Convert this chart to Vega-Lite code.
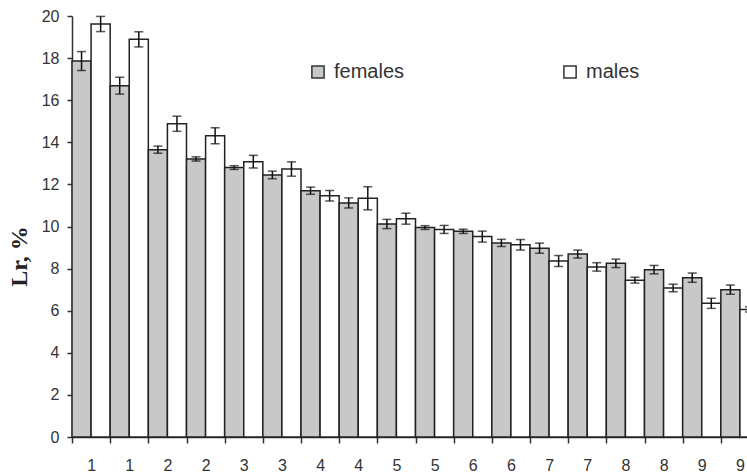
{
  "$schema": "https://vega.github.io/schema/vega-lite/v6.json",
  "width": 687,
  "height": 421,
  "autosize": "none",
  "padding": {"left": 72, "top": 16, "right": 0, "bottom": 39},
  "background": "white",
  "config": {
    "view": {"stroke": null},
    "font": "Liberation Sans",
    "axis": {"grid": false, "domainColor": "#333333", "domainWidth": 1.5, "tickColor": "#333333", "tickWidth": 1.5, "labelColor": "#333333", "labelFont": "Liberation Sans", "labelFontSize": 16}
  },
  "data": {"values": [
    {"g": 0, "sex": "females", "v": 17.86, "lo": 17.41, "hi": 18.31},
    {"g": 0, "sex": "males", "v": 19.62, "lo": 19.26, "hi": 19.98},
    {"g": 1, "sex": "females", "v": 16.69, "lo": 16.29, "hi": 17.09},
    {"g": 1, "sex": "males", "v": 18.89, "lo": 18.53, "hi": 19.25},
    {"g": 2, "sex": "females", "v": 13.65, "lo": 13.48, "hi": 13.82},
    {"g": 2, "sex": "males", "v": 14.88, "lo": 14.52, "hi": 15.24},
    {"g": 3, "sex": "females", "v": 13.21, "lo": 13.11, "hi": 13.31},
    {"g": 3, "sex": "males", "v": 14.31, "lo": 13.93, "hi": 14.69},
    {"g": 4, "sex": "females", "v": 12.8, "lo": 12.71, "hi": 12.89},
    {"g": 4, "sex": "males", "v": 13.08, "lo": 12.78, "hi": 13.38},
    {"g": 5, "sex": "females", "v": 12.45, "lo": 12.27, "hi": 12.63},
    {"g": 5, "sex": "males", "v": 12.73, "lo": 12.39, "hi": 13.07},
    {"g": 6, "sex": "females", "v": 11.7, "lo": 11.53, "hi": 11.87},
    {"g": 6, "sex": "males", "v": 11.46, "lo": 11.21, "hi": 11.71},
    {"g": 7, "sex": "females", "v": 11.12, "lo": 10.88, "hi": 11.36},
    {"g": 7, "sex": "males", "v": 11.34, "lo": 10.79, "hi": 11.89},
    {"g": 8, "sex": "females", "v": 10.12, "lo": 9.9, "hi": 10.34},
    {"g": 8, "sex": "males", "v": 10.37, "lo": 10.11, "hi": 10.63},
    {"g": 9, "sex": "females", "v": 9.95, "lo": 9.86, "hi": 10.04},
    {"g": 9, "sex": "males", "v": 9.86, "lo": 9.67, "hi": 10.05},
    {"g": 10, "sex": "females", "v": 9.77, "lo": 9.67, "hi": 9.87},
    {"g": 10, "sex": "males", "v": 9.52, "lo": 9.26, "hi": 9.78},
    {"g": 11, "sex": "females", "v": 9.22, "lo": 9.05, "hi": 9.39},
    {"g": 11, "sex": "males", "v": 9.13, "lo": 8.88, "hi": 9.38},
    {"g": 12, "sex": "females", "v": 8.97, "lo": 8.73, "hi": 9.21},
    {"g": 12, "sex": "males", "v": 8.36, "lo": 8.1, "hi": 8.62},
    {"g": 13, "sex": "females", "v": 8.69, "lo": 8.5, "hi": 8.88},
    {"g": 13, "sex": "males", "v": 8.08, "lo": 7.88, "hi": 8.28},
    {"g": 14, "sex": "females", "v": 8.25, "lo": 8.05, "hi": 8.45},
    {"g": 14, "sex": "males", "v": 7.45, "lo": 7.31, "hi": 7.59},
    {"g": 15, "sex": "females", "v": 7.95, "lo": 7.75, "hi": 8.15},
    {"g": 15, "sex": "males", "v": 7.08, "lo": 6.9, "hi": 7.26},
    {"g": 16, "sex": "females", "v": 7.57, "lo": 7.35, "hi": 7.79},
    {"g": 16, "sex": "males", "v": 6.35, "lo": 6.11, "hi": 6.59},
    {"g": 17, "sex": "females", "v": 7.0, "lo": 6.78, "hi": 7.22},
    {"g": 17, "sex": "males", "v": 6.06, "lo": 5.94, "hi": 6.18}
  ]},
  "encoding": {
    "x": {
      "field": "g", "type": "ordinal",
      "scale": {"paddingInner": 0, "paddingOuter": 0},
      "axis": {"title": null, "labelAngle": 0, "labelExpr": "floor(datum.value / 2) + 1", "tickOffset": -19.08, "labelOffset": 19.08, "tickSize": 6, "labelPadding": 14, "labelBaseline": "top"}
    },
    "xOffset": {"field": "sex", "type": "nominal", "scale": {"domain": ["females", "males"], "paddingInner": 0, "paddingOuter": 0}}
  },
  "layer": [
    {
      "mark": {"type": "bar", "stroke": "#222222", "strokeWidth": 1.5},
      "encoding": {
        "y": {
          "field": "v", "type": "quantitative",
          "scale": {"domain": [0, 20], "nice": false},
          "axis": {"values": [0, 2, 4, 6, 8, 10, 12, 14, 16, 18, 20], "tickSize": 5, "labelPadding": 8, "title": "Lr, %", "titleFont": "Liberation Serif", "titleFontSize": 24, "titleFontWeight": "bold", "titleColor": "#222222", "titleAngle": 270, "titleAlign": "center", "titleBaseline": "middle", "titleX": -53, "titleY": 240}
        },
        "fill": {
          "field": "sex", "type": "nominal",
          "scale": {"domain": ["females", "males"], "range": ["#c8c8c8", "#ffffff"]},
          "legend": {"title": null, "orient": "none", "legendX": 236, "legendY": 46, "direction": "horizontal", "symbolType": "square", "symbolSize": 150, "symbolStrokeColor": "#333333", "symbolStrokeWidth": 1.5, "labelFontSize": 20, "labelColor": "#333333", "labelFont": "Liberation Sans", "labelOffset": 6, "columnPadding": 155}
        }
      }
    },
    {
      "mark": {"type": "rule", "color": "#111111", "strokeWidth": 1.5},
      "encoding": {"y": {"field": "lo", "type": "quantitative"}, "y2": {"field": "hi"}}
    },
    {
      "mark": {"type": "tick", "color": "#111111", "thickness": 1.5, "size": 9, "orient": "horizontal"},
      "encoding": {"y": {"field": "lo", "type": "quantitative"}}
    },
    {
      "mark": {"type": "tick", "color": "#111111", "thickness": 1.5, "size": 9, "orient": "horizontal"},
      "encoding": {"y": {"field": "hi", "type": "quantitative"}}
    }
  ]
}
